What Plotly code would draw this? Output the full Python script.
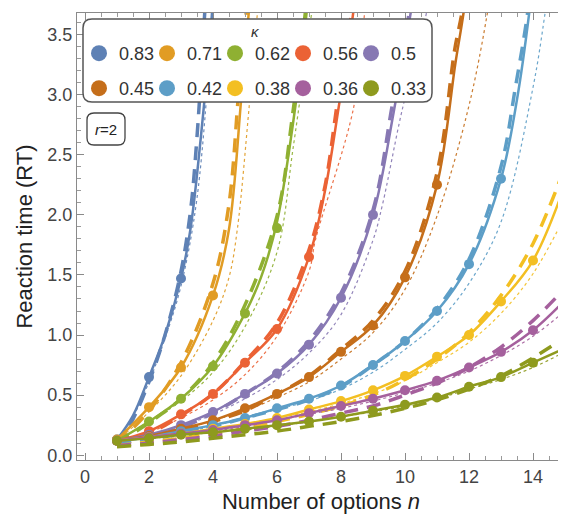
import plotly.graph_objects as go

# ---------------- data ----------------
kappa_labels = ["0.83", "0.71", "0.62", "0.56", "0.5", "0.45", "0.42", "0.38", "0.36", "0.33"]
colors = ["#5E81B5", "#E19C24", "#8FB032", "#EB6235", "#8778B3",
          "#C56E1A", "#5D9EC7", "#F3BF22", "#A5609D", "#8E9A1E"]

# simulated mean RT (dots) at n = 1, 2, ...
pts_083 = [0.13, 0.65, 1.47]
pts_071 = [0.13, 0.40, 0.73, 1.33]
pts_062 = [0.12, 0.28, 0.47, 0.74, 1.18, 1.89]
pts_056 = [0.12, 0.20, 0.34, 0.51, 0.77, 1.05, 1.65]
pts_050 = [0.12, 0.17, 0.25, 0.36, 0.51, 0.68, 0.92, 1.31, 2.00]
pts_045 = [0.12, 0.16, 0.22, 0.29, 0.39, 0.51, 0.65, 0.86, 1.08, 1.48, 2.25]
pts_042 = [0.12, 0.15, 0.20, 0.25, 0.31, 0.39, 0.47, 0.58, 0.75, 0.95, 1.20, 1.59, 2.30]
pts_038 = [0.12, 0.15, 0.18, 0.22, 0.26, 0.31, 0.38, 0.45, 0.54, 0.66, 0.82, 1.00, 1.28, 1.62, 2.25]
pts_036 = [0.12, 0.15, 0.18, 0.21, 0.25, 0.29, 0.35, 0.41, 0.47, 0.54, 0.62, 0.73, 0.86, 1.04, 1.29]
pts_033 = [0.12, 0.14, 0.17, 0.19, 0.22, 0.25, 0.28, 0.32, 0.37, 0.42, 0.48, 0.57, 0.65, 0.77, 0.89]

# solid theory curves (n, RT)
fit_x_083 = [1, 1.5, 2, 2.5, 3, 3.3, 3.64, 3.98, 4.1]
fit_y_083 = [0.13, 0.33, 0.65, 1.00, 1.47, 1.89, 2.70, 3.72, 4.3]
fit_x_071 = [1, 2, 3, 4, 4.5, 4.88, 5.13, 5.25]
fit_y_071 = [0.13, 0.40, 0.73, 1.33, 1.88, 2.96, 3.72, 4.2]
fit_x_062 = [1, 2, 3, 4, 5, 5.5, 6, 6.5, 6.94, 7.1]
fit_y_062 = [0.12, 0.28, 0.47, 0.74, 1.18, 1.48, 1.94, 2.76, 3.72, 4.2]
fit_x_056 = [1, 2, 3, 4, 5, 6, 7, 7.5, 7.93, 8.4, 8.6]
fit_y_056 = [0.12, 0.20, 0.34, 0.51, 0.77, 1.05, 1.65, 2.20, 2.90, 3.72, 4.3]
fit_x_050 = [1, 2, 3, 4, 5, 6, 7, 8, 9, 9.65, 10.2, 10.4]
fit_y_050 = [0.12, 0.17, 0.25, 0.36, 0.51, 0.68, 0.92, 1.31, 2.00, 2.86, 3.72, 4.1]
fit_x_045 = [1, 2, 3, 4, 5, 6, 7, 8, 9, 10, 11, 11.58, 11.85, 12.0]
fit_y_045 = [0.12, 0.16, 0.22, 0.29, 0.39, 0.51, 0.65, 0.86, 1.08, 1.48, 2.25, 3.27, 3.72, 4.1]
fit_x_042 = [1, 2, 3, 4, 5, 6, 7, 8, 9, 10, 11, 12, 13, 13.5, 13.9, 14.05]
fit_y_042 = [0.12, 0.15, 0.20, 0.25, 0.31, 0.39, 0.47, 0.58, 0.75, 0.95, 1.20, 1.59, 2.30, 2.96, 3.72, 4.1]
fit_x_038 = list(range(1, 16))
fit_y_038 = pts_038
fit_x_036 = list(range(1, 16))
fit_y_036 = pts_036
fit_x_033 = list(range(1, 16))
fit_y_033 = pts_033

# long-dashed approximation curves (n, RT)
dash_x_083 = [1, 1.5, 2, 2.5, 3, 3.3, 3.5, 3.75, 3.9]
dash_y_083 = [0.08, 0.30, 0.61, 1.00, 1.53, 2.04, 2.65, 3.72, 4.4]
dash_x_071 = [1, 2, 3, 4, 4.5, 4.8, 5.05, 5.2]
dash_y_071 = [0.10, 0.37, 0.77, 1.43, 2.09, 3.01, 3.72, 4.2]
dash_x_062 = [1, 2, 3, 4, 5, 6, 6.5, 6.9, 7.05]
dash_y_062 = [0.10, 0.27, 0.47, 0.77, 1.25, 1.99, 2.86, 3.72, 4.2]
dash_x_056 = [1, 2, 3, 4, 5, 6, 7, 7.5, 7.9, 8.35, 8.5]
dash_y_056 = [0.10, 0.18, 0.33, 0.51, 0.78, 1.10, 1.71, 2.24, 2.96, 3.72, 4.2]
dash_x_050 = [1, 2, 3, 4, 5, 6, 7, 8, 9, 9.6, 10.15, 10.3]
dash_y_050 = [0.10, 0.15, 0.23, 0.35, 0.51, 0.69, 0.95, 1.35, 2.04, 2.91, 3.72, 4.1]
dash_x_045 = [1, 2, 3, 4, 5, 6, 7, 8, 9, 10, 11, 11.55, 11.8, 12.0]
dash_y_045 = [0.10, 0.14, 0.20, 0.28, 0.37, 0.51, 0.66, 0.88, 1.12, 1.53, 2.35, 3.37, 3.72, 4.3]
dash_x_042 = [1, 2, 3, 4, 5, 6, 7, 8, 9, 10, 11, 12, 13, 13.45, 13.85, 14.0]
dash_y_042 = [0.10, 0.13, 0.18, 0.24, 0.31, 0.38, 0.46, 0.57, 0.75, 0.95, 1.22, 1.63, 2.40, 3.06, 3.72, 4.2]
dash_x_038 = list(range(1, 16))
dash_y_038 = [0.08, 0.11, 0.14, 0.18, 0.22, 0.28, 0.34, 0.41, 0.50, 0.63, 0.80, 1.02, 1.33, 1.76, 2.40]
dash_x_036 = list(range(1, 16))
dash_y_036 = [0.08, 0.10, 0.13, 0.16, 0.20, 0.24, 0.29, 0.35, 0.41, 0.50, 0.60, 0.73, 0.90, 1.12, 1.39]
dash_x_033 = list(range(1, 16))
dash_y_033 = [0.07, 0.09, 0.11, 0.14, 0.17, 0.20, 0.24, 0.28, 0.33, 0.39, 0.46, 0.55, 0.66, 0.81, 0.98]

# thin dotted curves (n, RT)
dot_x_083 = [1, 1.5, 2, 2.5, 3, 3.5, 4.0, 4.15]
dot_y_083 = [0.12, 0.32, 0.61, 0.97, 1.41, 2.14, 3.72, 4.3]
dot_x_071 = [1, 2, 3, 4, 4.5, 4.76, 5.13, 5.4, 5.55]
dot_y_071 = [0.12, 0.36, 0.66, 1.12, 1.48, 1.88, 2.90, 3.72, 4.2]
dot_x_062 = [1, 2, 3, 4, 5, 6, 6.5, 7.1, 7.3]
dot_y_062 = [0.12, 0.28, 0.45, 0.69, 1.07, 1.69, 2.55, 3.72, 4.2]
dot_x_056 = [1, 2, 3, 4, 5, 6, 7, 7.2, 8.4, 8.75, 8.9]
dot_y_056 = [0.12, 0.19, 0.31, 0.46, 0.67, 0.99, 1.53, 1.79, 2.90, 3.72, 4.2]
dot_x_050 = [1, 2, 3, 4, 5, 6, 7, 8, 9, 9.3, 9.9, 10.7, 10.9]
dot_y_050 = [0.12, 0.16, 0.24, 0.34, 0.47, 0.63, 0.85, 1.17, 1.79, 2.09, 2.86, 3.72, 4.1]
dot_x_045 = [1, 2, 3, 4, 5, 6, 7, 8, 9, 10, 11, 12, 12.6, 12.8]
dot_y_045 = [0.12, 0.15, 0.21, 0.29, 0.37, 0.48, 0.61, 0.80, 1.02, 1.38, 1.99, 2.91, 3.72, 4.1]
dot_x_042 = [1, 2, 3, 4, 5, 6, 7, 8, 9, 10, 11, 12, 13, 14, 14.4, 14.6]
dot_y_042 = [0.12, 0.14, 0.19, 0.24, 0.31, 0.38, 0.45, 0.55, 0.69, 0.88, 1.10, 1.43, 1.94, 3.06, 3.72, 4.1]
dot_x_038 = list(range(1, 16))
dot_y_038 = [0.12, 0.15, 0.18, 0.21, 0.26, 0.31, 0.36, 0.43, 0.51, 0.62, 0.77, 0.94, 1.18, 1.51, 1.99]
dot_x_036 = list(range(1, 16))
dot_y_036 = [0.12, 0.14, 0.17, 0.20, 0.24, 0.29, 0.34, 0.39, 0.45, 0.52, 0.60, 0.70, 0.83, 0.99, 1.20]
dot_x_033 = list(range(1, 16))
dot_y_033 = [0.12, 0.14, 0.16, 0.19, 0.21, 0.24, 0.28, 0.32, 0.36, 0.41, 0.47, 0.55, 0.63, 0.73, 0.86]

x_tick_vals = [0, 2, 4, 6, 8, 10, 12, 14]
y_tick_vals = [0.0, 0.5, 1.0, 1.5, 2.0, 2.5, 3.0, 3.5]

pts_all = [pts_083, pts_071, pts_062, pts_056, pts_050, pts_045, pts_042, pts_038, pts_036, pts_033]
fit_all = [(fit_x_083, fit_y_083), (fit_x_071, fit_y_071), (fit_x_062, fit_y_062), (fit_x_056, fit_y_056),
           (fit_x_050, fit_y_050), (fit_x_045, fit_y_045), (fit_x_042, fit_y_042), (fit_x_038, fit_y_038),
           (fit_x_036, fit_y_036), (fit_x_033, fit_y_033)]
dash_all = [(dash_x_083, dash_y_083), (dash_x_071, dash_y_071), (dash_x_062, dash_y_062), (dash_x_056, dash_y_056),
            (dash_x_050, dash_y_050), (dash_x_045, dash_y_045), (dash_x_042, dash_y_042), (dash_x_038, dash_y_038),
            (dash_x_036, dash_y_036), (dash_x_033, dash_y_033)]
dot_all = [(dot_x_083, dot_y_083), (dot_x_071, dot_y_071), (dot_x_062, dot_y_062), (dot_x_056, dot_y_056),
           (dot_x_050, dot_y_050), (dot_x_045, dot_y_045), (dot_x_042, dot_y_042), (dot_x_038, dot_y_038),
           (dot_x_036, dot_y_036), (dot_x_033, dot_y_033)]

FONT = "Liberation Sans, Arial, sans-serif"

fig = go.Figure()

for i, lab in enumerate(kappa_labels):
    c = colors[i]
    dx, dy = dot_all[i]
    fig.add_trace(go.Scatter(x=dx, y=dy, mode="lines", line=dict(color=c, width=1.2, dash="3px,3px", shape="spline"),
                             opacity=0.9, showlegend=False, hoverinfo="skip"))
    ax, ay = dash_all[i]
    fig.add_trace(go.Scatter(x=ax, y=ay, mode="lines", line=dict(color=c, width=3.5, dash="14px,9px", shape="spline"),
                             showlegend=False, hoverinfo="skip"))
    fx, fy = fit_all[i]
    fig.add_trace(go.Scatter(x=fx, y=fy, mode="lines", line=dict(color=c, width=2.5, shape="spline"),
                             showlegend=False, hoverinfo="skip"))
    p = pts_all[i]
    fig.add_trace(go.Scatter(x=list(range(1, len(p) + 1)), y=p, mode="markers", cliponaxis=False,
                             marker=dict(color=c, size=10), showlegend=False))

# legend entries (two rows)
for i, lab in enumerate(kappa_labels):
    fig.add_trace(go.Scatter(x=[None], y=[None], mode="markers", name=lab,
                             marker=dict(color=colors[i], size=16),
                             legend="legend" if i < 5 else "legend2", showlegend=True))

# page has an 8px body margin: figure pixel = screen pixel - 8
OFF = 8
W, H = 558, 514
ML, MR, MT, MB = 77 - OFF, 1, 13 - OFF, H - (460 - OFF)
pw, ph = W - ML - MR, H - MT - MB


def px(xs):
    return (xs - OFF - ML) / pw


def py(ys):
    return (H - MB - (ys - OFF)) / ph


def rrect(x0, y0, x1, y1, r):
    X0, X1 = px(x0), px(x1)
    Y0, Y1 = py(y1), py(y0)
    rx, ry = r / pw, r / ph
    return (f"M {X0+rx},{Y1} L {X1-rx},{Y1} Q {X1},{Y1} {X1},{Y1-ry} L {X1},{Y0+ry} "
            f"Q {X1},{Y0} {X1-rx},{Y0} L {X0+rx},{Y0} Q {X0},{Y0} {X0},{Y0+ry} "
            f"L {X0},{Y1-ry} Q {X0},{Y1} {X0+rx},{Y1} Z")


axis_common = dict(showgrid=False, zeroline=False, showline=True, linecolor="#8a8a8a", linewidth=1,
                   mirror="allticks", ticks="inside", ticklen=7, tickcolor="#8a8a8a", tickwidth=1,
                   automargin=False, tickfont=dict(family=FONT, size=18, color="#444"))

leg_common = dict(orientation="h", xanchor="left", yanchor="top", bgcolor="rgba(0,0,0,0)", borderwidth=0,
                  entrywidth=34, indentation=-11, itemclick=False,
                  font=dict(family=FONT, size=18, color="#333"))

fig.update_layout(
    width=W, height=H,
    margin=dict(l=ML, r=MR, t=MT, b=MB),
    paper_bgcolor="white", plot_bgcolor="white",
    font=dict(family=FONT),
    xaxis=dict(range=[-0.25, 15], tickvals=x_tick_vals,
               minor=dict(dtick=0.5, tick0=0, ticks="inside", ticklen=4, tickcolor="#9a9a9a"),
               title=dict(text="Number of options <i>n</i>", font=dict(family=FONT, size=22, color="#222"), standoff=8),
               **axis_common),
    yaxis=dict(range=[-0.04, 3.68], tickvals=y_tick_vals, tickformat=".1f",
               minor=dict(dtick=0.1, tick0=0, ticks="inside", ticklen=4, tickcolor="#9a9a9a"),
               title=dict(text="Reaction time (RT)", font=dict(family=FONT, size=22, color="#222"), standoff=8),
               **axis_common),
    legend=dict(x=px(90), y=py(35), **leg_common),
    legend2=dict(x=px(90), y=py(70), **leg_common),
    shapes=[
        dict(type="path", xref="paper", yref="paper", path=rrect(83, 19, 432, 102, 9),
             fillcolor="white", line=dict(color="#555", width=1.5), layer="above"),
        dict(type="path", xref="paper", yref="paper", path=rrect(87, 113, 125, 145, 7),
             fillcolor="white", line=dict(color="#444", width=1.3), layer="above"),
    ],
    annotations=[
        dict(text="<i>κ</i>", xref="paper", yref="paper", x=px(255), y=py(32), showarrow=False,
             font=dict(family=FONT, size=15, color="#333"), xanchor="center", yanchor="middle"),
        dict(text="<i>r</i>=2", xref="paper", yref="paper", x=px(106), y=py(129), showarrow=False,
             font=dict(family=FONT, size=15, color="#222"), xanchor="center", yanchor="middle"),
    ],
)

fig.write_html("out.html")
